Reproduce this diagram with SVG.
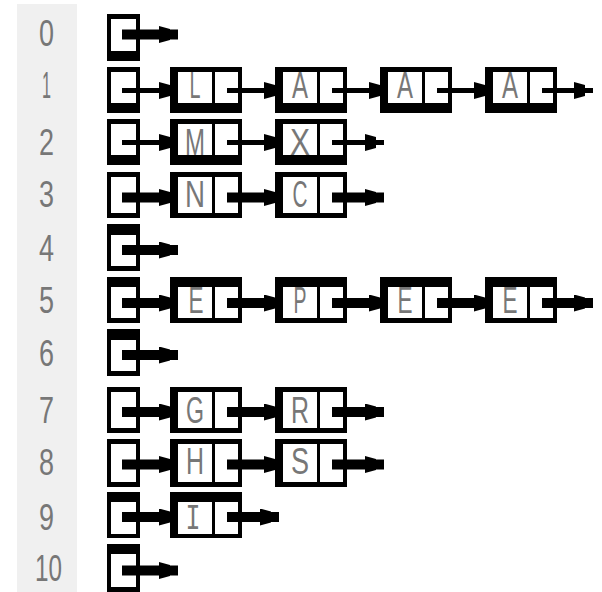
<svg xmlns="http://www.w3.org/2000/svg" width="602" height="592" viewBox="0 0 602 592">
<style>
.box{fill:#000}
.cell{fill:#fff}
.lbl{font-family:"Liberation Sans",Arial,sans-serif;font-size:36px;fill:#777;text-anchor:middle}
.mono{font-family:"Liberation Mono","Courier New",monospace}
.ln{stroke:#000;fill:none;marker-end:url(#ah)}
.thin{stroke-width:5}
.thick{stroke-width:10}
</style>
<defs>
<marker id="ah" markerUnits="userSpaceOnUse" markerWidth="19" markerHeight="17" viewBox="0 0 19 17" refX="19" refY="8.5" orient="auto">
<path d="M0,0 L11,3 L11,14 L0,17 Z" fill="#000"/>
</marker>
</defs>
<rect x="0" y="0" width="602" height="592" fill="#fff"/>
<rect id="panel" x="17" y="4" width="60" height="588" fill="#f0f0f0"/>

<g id="labels">
<text class="lbl" x="46.5" y="46" textLength="15" lengthAdjust="spacingAndGlyphs">0</text>
<text class="lbl" x="46.5" y="98" textLength="9" lengthAdjust="spacingAndGlyphs">1</text>
<text class="lbl" x="46.5" y="155" textLength="15" lengthAdjust="spacingAndGlyphs">2</text>
<text class="lbl" x="46.5" y="207" textLength="15" lengthAdjust="spacingAndGlyphs">3</text>
<text class="lbl" x="46.5" y="261" textLength="15" lengthAdjust="spacingAndGlyphs">4</text>
<text class="lbl" x="46.5" y="313" textLength="15" lengthAdjust="spacingAndGlyphs">5</text>
<text class="lbl" x="46.5" y="366" textLength="15" lengthAdjust="spacingAndGlyphs">6</text>
<text class="lbl" x="46.5" y="423" textLength="15" lengthAdjust="spacingAndGlyphs">7</text>
<text class="lbl" x="46.5" y="475" textLength="15" lengthAdjust="spacingAndGlyphs">8</text>
<text class="lbl" x="46.5" y="530" textLength="15" lengthAdjust="spacingAndGlyphs">9</text>
<text class="lbl" x="48.5" y="581" textLength="27" lengthAdjust="spacingAndGlyphs">10</text>
</g>

<!-- buckets -->
<g id="b0"><rect class="box" x="107" y="14" width="33" height="47"/><rect class="cell" x="111" y="19" width="25" height="32"/></g>
<g id="b1"><rect class="box" x="107" y="67" width="33" height="46"/><rect class="cell" x="111" y="72" width="25" height="31"/></g>
<g id="b2"><rect class="box" x="107" y="119" width="33" height="46"/><rect class="cell" x="111" y="124" width="25" height="31"/></g>
<g id="b3"><rect class="box" x="107" y="172" width="33" height="46"/><rect class="cell" x="111" y="177" width="25" height="36"/></g>
<g id="b4"><rect class="box" x="107" y="224" width="33" height="47"/><rect class="cell" x="111" y="235" width="25" height="31"/></g>
<g id="b5"><rect class="box" x="107" y="277" width="33" height="46"/><rect class="cell" x="111" y="287" width="25" height="31"/></g>
<g id="b6"><rect class="box" x="107" y="329" width="33" height="47"/><rect class="cell" x="111" y="340" width="25" height="31"/></g>
<g id="b7"><rect class="box" x="107" y="387" width="33" height="46"/><rect class="cell" x="111" y="392" width="25" height="36"/></g>
<g id="b8"><rect class="box" x="107" y="439" width="33" height="48"/><rect class="cell" x="111" y="444" width="25" height="38"/></g>
<g id="b9"><rect class="box" x="107" y="492" width="33" height="46"/><rect class="cell" x="111" y="502" width="25" height="32"/></g>
<g id="b10"><rect class="box" x="107" y="544" width="33" height="48"/><rect class="cell" x="111" y="554" width="25" height="33"/></g>

<!-- row 1 nodes -->
<g id="n1a"><rect class="box" x="170" y="67" width="72" height="46"/><rect class="cell" x="178" y="72" width="34" height="31"/><rect class="cell" x="215" y="72" width="23" height="31"/><text class="lbl" x="195" y="98" textLength="11" lengthAdjust="spacingAndGlyphs">L</text></g>
<g id="n1b"><rect class="box" x="275" y="67" width="72" height="46"/><rect class="cell" x="283" y="72" width="34" height="31"/><rect class="cell" x="320" y="72" width="23" height="31"/><text class="lbl" x="300" y="98" textLength="16" lengthAdjust="spacingAndGlyphs">A</text></g>
<g id="n1c"><rect class="box" x="380" y="67" width="72" height="46"/><rect class="cell" x="388" y="72" width="34" height="31"/><rect class="cell" x="425" y="72" width="23" height="31"/><text class="lbl" x="405" y="98" textLength="16" lengthAdjust="spacingAndGlyphs">A</text></g>
<g id="n1d"><rect class="box" x="485" y="67" width="72" height="46"/><rect class="cell" x="493" y="72" width="34" height="31"/><rect class="cell" x="530" y="72" width="23" height="31"/><text class="lbl" x="510" y="98" textLength="16" lengthAdjust="spacingAndGlyphs">A</text></g>

<!-- row 2 -->
<g id="n2a"><rect class="box" x="170" y="119" width="72" height="46"/><rect class="cell" x="178" y="124" width="34" height="31"/><rect class="cell" x="215" y="124" width="23" height="31"/><text class="lbl" x="195" y="155" textLength="20" lengthAdjust="spacingAndGlyphs">M</text></g>
<g id="n2b"><rect class="box" x="275" y="119" width="72" height="46"/><rect class="cell" x="283" y="124" width="34" height="31"/><rect class="cell" x="320" y="124" width="23" height="31"/><text class="lbl" x="300" y="155" textLength="20" lengthAdjust="spacingAndGlyphs">X</text></g>

<!-- row 3 -->
<g id="n3a"><rect class="box" x="170" y="172" width="72" height="46"/><rect class="cell" x="178" y="177" width="34" height="36"/><rect class="cell" x="215" y="177" width="23" height="36"/><text class="lbl" x="195" y="207" textLength="20" lengthAdjust="spacingAndGlyphs">N</text></g>
<g id="n3b"><rect class="box" x="275" y="172" width="72" height="46"/><rect class="cell" x="283" y="177" width="34" height="36"/><rect class="cell" x="320" y="177" width="23" height="36"/><text class="lbl" x="300" y="207" textLength="15" lengthAdjust="spacingAndGlyphs">C</text></g>

<!-- row 5 -->
<g id="n5a"><rect class="box" x="170" y="277" width="72" height="46"/><rect class="cell" x="178" y="287" width="34" height="31"/><rect class="cell" x="215" y="287" width="23" height="31"/><text class="lbl" x="196" y="313" textLength="15" lengthAdjust="spacingAndGlyphs">E</text></g>
<g id="n5b"><rect class="box" x="275" y="277" width="72" height="46"/><rect class="cell" x="283" y="287" width="34" height="31"/><rect class="cell" x="320" y="287" width="23" height="31"/><text class="lbl" x="300" y="313" textLength="13" lengthAdjust="spacingAndGlyphs">P</text></g>
<g id="n5c"><rect class="box" x="380" y="277" width="72" height="46"/><rect class="cell" x="388" y="287" width="34" height="31"/><rect class="cell" x="425" y="287" width="23" height="31"/><text class="lbl" x="405" y="313" textLength="15" lengthAdjust="spacingAndGlyphs">E</text></g>
<g id="n5d"><rect class="box" x="485" y="277" width="72" height="46"/><rect class="cell" x="493" y="287" width="34" height="31"/><rect class="cell" x="530" y="287" width="23" height="31"/><text class="lbl" x="510" y="313" textLength="15" lengthAdjust="spacingAndGlyphs">E</text></g>

<!-- row 7 -->
<g id="n7a"><rect class="box" x="170" y="387" width="72" height="46"/><rect class="cell" x="178" y="392" width="34" height="36"/><rect class="cell" x="215" y="392" width="23" height="36"/><text class="lbl" x="195" y="423" textLength="18" lengthAdjust="spacingAndGlyphs">G</text></g>
<g id="n7b"><rect class="box" x="275" y="387" width="72" height="46"/><rect class="cell" x="283" y="392" width="34" height="36"/><rect class="cell" x="320" y="392" width="23" height="36"/><text class="lbl" x="300" y="423" textLength="18" lengthAdjust="spacingAndGlyphs">R</text></g>

<!-- row 8 -->
<g id="n8a"><rect class="box" x="170" y="439" width="72" height="48"/><rect class="cell" x="178" y="444" width="34" height="38"/><rect class="cell" x="215" y="444" width="23" height="38"/><text class="lbl" x="195" y="474" textLength="18" lengthAdjust="spacingAndGlyphs">H</text></g>
<g id="n8b"><rect class="box" x="275" y="439" width="72" height="48"/><rect class="cell" x="283" y="444" width="34" height="38"/><rect class="cell" x="320" y="444" width="23" height="38"/><text class="lbl" x="300" y="474" textLength="18" lengthAdjust="spacingAndGlyphs">S</text></g>

<!-- row 9 -->
<g id="n9a"><rect class="box" x="170" y="492" width="72" height="46"/><rect class="cell" x="178" y="502" width="34" height="32"/><rect class="cell" x="215" y="502" width="23" height="32"/><text class="lbl mono" x="193" y="529" textLength="15" lengthAdjust="spacingAndGlyphs">I</text></g>

<g id="connectors">
<line class="ln thick" x1="122" y1="34.5" x2="178" y2="34.5"/>
<line class="ln thin" x1="122" y1="90.5" x2="178" y2="90.5"/>
<line class="ln thin" x1="227" y1="90.5" x2="283" y2="90.5"/>
<line class="ln thin" x1="332" y1="90.5" x2="388" y2="90.5"/>
<line class="ln thin" x1="437" y1="90.5" x2="493" y2="90.5"/>
<line class="ln thin" x1="542" y1="90.5" x2="593" y2="90.5"/>
<line class="ln thin" x1="122" y1="142.5" x2="178" y2="142.5"/>
<line class="ln thin" x1="227" y1="142.5" x2="283" y2="142.5"/>
<line class="ln thin" x1="332" y1="142.5" x2="384" y2="142.5"/>
<line class="ln thick" x1="122" y1="197.5" x2="178" y2="197.5"/>
<line class="ln thick" x1="227" y1="197.5" x2="283" y2="197.5"/>
<line class="ln thick" x1="332" y1="197.5" x2="384" y2="197.5"/>
<line class="ln thick" x1="122" y1="250" x2="178" y2="250"/>
<line class="ln thick" x1="122" y1="303" x2="178" y2="303"/>
<line class="ln thick" x1="227" y1="303" x2="283" y2="303"/>
<line class="ln thick" x1="332" y1="303" x2="388" y2="303"/>
<line class="ln thick" x1="437" y1="303" x2="493" y2="303"/>
<line class="ln thick" x1="542" y1="303" x2="593" y2="303"/>
<line class="ln thick" x1="122" y1="355" x2="178" y2="355"/>
<line class="ln thick" x1="122" y1="412" x2="178" y2="412"/>
<line class="ln thick" x1="227" y1="412" x2="283" y2="412"/>
<line class="ln thick" x1="332" y1="412" x2="384" y2="412"/>
<line class="ln thick" x1="122" y1="464.5" x2="178" y2="464.5"/>
<line class="ln thick" x1="227" y1="464.5" x2="283" y2="464.5"/>
<line class="ln thick" x1="332" y1="464.5" x2="384" y2="464.5"/>
<line class="ln thick" x1="122" y1="517" x2="178" y2="517"/>
<line class="ln thick" x1="227" y1="517" x2="279" y2="517"/>
<line class="ln thick" x1="122" y1="570.5" x2="178" y2="570.5"/>
</g>
</svg>
